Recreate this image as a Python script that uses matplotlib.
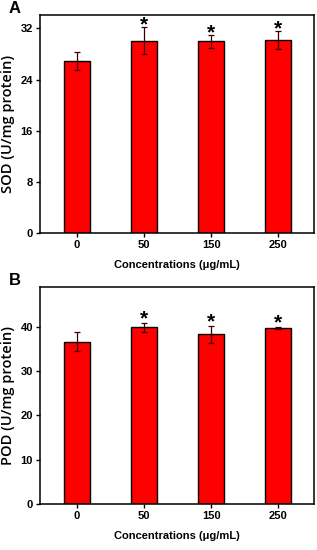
import matplotlib
matplotlib.use("Agg")
import matplotlib.pyplot as plt

concentrations = ["0", "50", "150", "250"]

sod_mean = [26.9, 30.1, 30.0, 30.2]
sod_err = [1.4, 2.1, 1.05, 1.4]
sod_sig = [False, True, True, True]

pod_mean = [36.7, 39.9, 38.3, 39.8]
pod_err = [2.2, 1.0, 2.0, 0.2]
pod_sig = [False, True, True, True]

plt.rcParams['font.family'] = ['Liberation Sans', 'DejaVu Sans']

fig = plt.figure(figsize=(3.17, 5.5), dpi=100)
ax_a = fig.add_axes([0.126, 0.5764, 0.865, 0.3963])
ax_b = fig.add_axes([0.126, 0.0836, 0.865, 0.3944])


def draw_panel(ax, means, errs, sig, ylim, yticks, ylabel, letter, star_off):
    x = range(len(means))
    ax.bar(x, means, width=0.39, color='#ff0000', edgecolor='black', linewidth=1.0,
           yerr=errs, error_kw=dict(ecolor='#3a0000', elinewidth=0.9, capsize=2.5, capthick=0.9))
    for i, s in enumerate(sig):
        if s:
            ax.text(i, means[i] + errs[i] + star_off, '*', ha='center', va='center',
                    fontsize=15, fontweight='bold')
    ax.set_xlim(-0.552, 3.537)
    ax.set_ylim(*ylim)
    ax.set_yticks(yticks)
    ax.set_xticks(list(x))
    ax.set_xticklabels(concentrations)
    ax.tick_params(direction='out', length=3, width=1, labelsize=8, pad=2)
    for lab in ax.get_xticklabels() + ax.get_yticklabels():
        lab.set_fontweight('bold')
    for sp in ax.spines.values():
        sp.set_linewidth(1.1)
    ax.set_ylabel(ylabel, fontsize=10.5, family=['Open Sans', 'DejaVu Sans'],
                  fontweight='semibold', labelpad=4)
    ax.set_xlabel('Concentrations (μg/mL)', fontsize=8, fontweight='bold', labelpad=7)
    ax.text(-0.115, 1.03, letter, transform=ax.transAxes, fontsize=12, fontweight='bold',
            ha='left', va='center')


draw_panel(ax_a, sod_mean, sod_err, sod_sig, (0, 34.1), [0, 8, 16, 24, 32],
           'SOD (U/mg protein)', 'A', 0.3)
draw_panel(ax_b, pod_mean, pod_err, pod_sig, (0, 49), [0, 10, 20, 30, 40],
           'POD (U/mg protein)', 'B', 0.9)

fig.savefig('out.png', dpi=100)
